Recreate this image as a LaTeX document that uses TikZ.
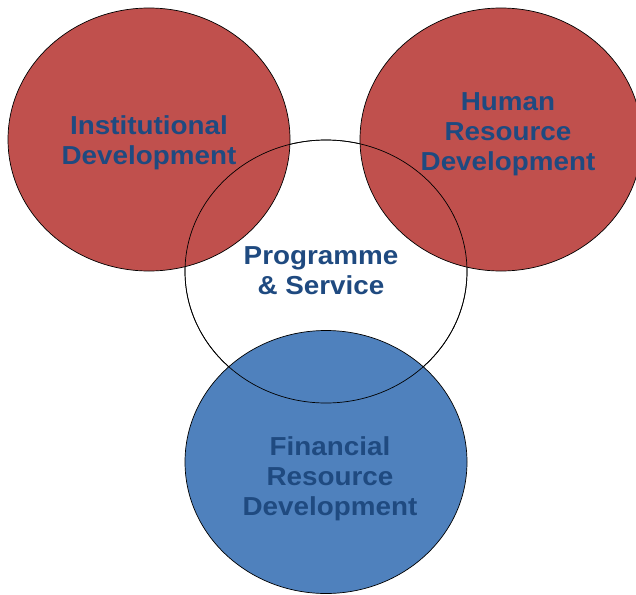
\documentclass[tikz,border=0pt]{standalone}
\usepackage{fontspec}
\setmainfont{Liberation Sans}
\newfontfamily\labfont[FakeStretch=1.07]{Liberation Sans}
\usetikzlibrary{shapes.geometric}
\definecolor{accred}{HTML}{C0504D}
\definecolor{accblue}{HTML}{4F81BD}
\definecolor{txtblue}{HTML}{1F4A80}

\begin{document}
\begin{tikzpicture}[x=1pt, y=-1pt,
    blob/.style={ellipse, draw=black, line width=0.7pt, minimum width=282pt,
      minimum height=263pt, inner sep=0pt},
    lab/.style={font=\labfont\fontsize{26}{30}\selectfont\bfseries, text=txtblue,
      align=center, inner sep=0pt}]
  \useasboundingbox (0,0) rectangle (636,594);
  % fills first, the middle ring goes back on top
  \node[blob, fill=white] (prog) at (326,271.5) {};
  \node[blob, fill=accred] (inst) at (149,139.5) {};
  \node[blob, fill=accred] (hum) at (501,139.5) {};
  \node[blob, fill=accblue] (fin) at (326,462) {};
  \node[blob] (progring) at (prog.center) {};
  % labels
  \node[lab] (instlab) at (149,143) {Institutional\\Development};
  \node[lab] (humlab) at (508,134.5) {Human\\Resource\\Development};
  \node[lab] (proglab) at (321,270.5) {Programme\\\& Service};
  \node[lab] (finlab) at (330,478.5) {Financial\\Resource\\Development};
\end{tikzpicture}
\end{document}
